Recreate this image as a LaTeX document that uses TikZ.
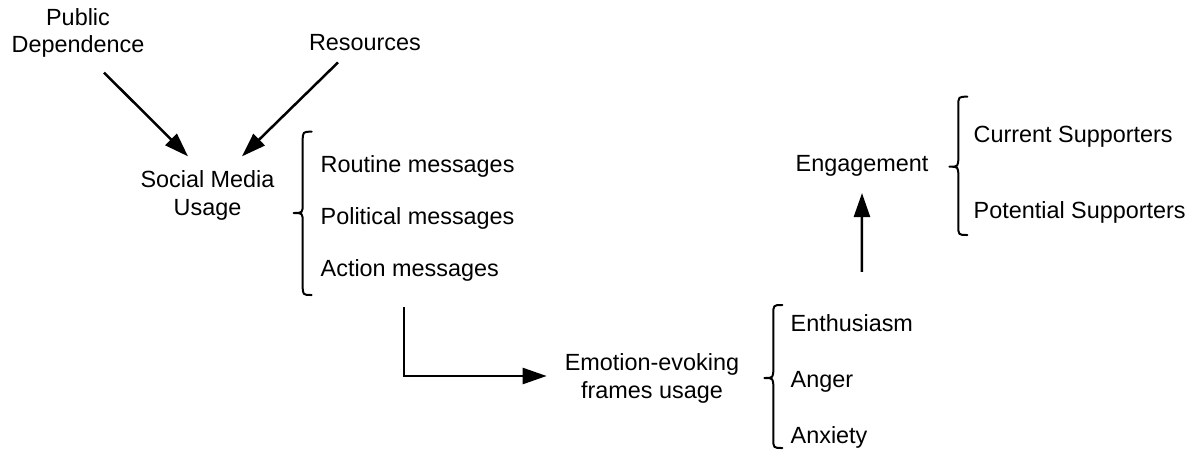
\documentclass[tikz,border=0pt]{standalone}
\usepackage{fontspec}
\setmainfont{Liberation Sans}
\usetikzlibrary{arrows.meta,calc}
\newcommand{\drawbrace}[4]{%
  \draw[bracestyle] (#1+9,#2) .. controls (#1,#2) .. (#1,#2+10) -- (#1,#3-10)
    .. controls (#1,#3) .. (#1-9,#3) .. controls (#1,#3) .. (#1,#3+10)
    -- (#1,#4-10) .. controls (#1,#4) .. (#1+9,#4);}
\begin{document}
\begin{tikzpicture}[x=1pt,y=-1pt,
  lbl/.style={inner sep=2pt, font=\fontsize{23.4}{27.5}\selectfont, align=center},
  item/.style={lbl, anchor=base west},
  arr/.style={line width=2.5pt, -{Triangle[length=24pt,width=16pt]}},
  bracestyle/.style={line width=2pt, line cap=round, line join=round}]
\useasboundingbox (0,0) rectangle (1193,453);
% nodes
\node[lbl] (pd) at (78,32.7) {Public\\Dependence};
\node[lbl, anchor=base] (res) at (365,50) {Resources};
\node[lbl] (sm) at (207.5,195.5) {Social Media\\Usage};
\node[item] (rout) at (318.5,172) {Routine messages};
\node[item] (pol) at (318.5,224) {Political messages};
\node[item] (act) at (318.5,276) {Action messages};
\node[lbl] (emo) at (652,378.5) {Emotion-evoking\\frames usage};
\node[item] (enth) at (788.5,331) {Enthusiasm};
\node[item] (ang) at (788.5,387) {Anger};
\node[item] (anx) at (788.5,443) {Anxiety};
\node[lbl, anchor=base] (eng) at (862,171) {Engagement};
\node[item] (cur) at (971.5,142) {Current Supporters};
\node[item] (pot) at (971.5,218) {Potential Supporters};
% braces
\drawbrace{302.7}{131.7}{213}{295}
\drawbrace{773.3}{305}{378}{448}
\drawbrace{958.3}{96.7}{166.7}{235}
% connectors
\draw[arr] ([shift={(26,13)}]pd.south) -- ([shift={(-19.5,-12.3)}]sm.north);
\draw[arr] ([shift={(-27,10)}]res.south) -- ([shift={(34.5,-12.3)}]sm.north);
\draw[arr, line join=miter] ([shift={(-5.6,24)}]act.south) |- ([shift={(-16,-2.5)}]emo.west);
\draw[arr] ([shift={(10,-40)}]enth.north) -- ([shift={(0,15)}]eng.south);
\end{tikzpicture}
\end{document}
